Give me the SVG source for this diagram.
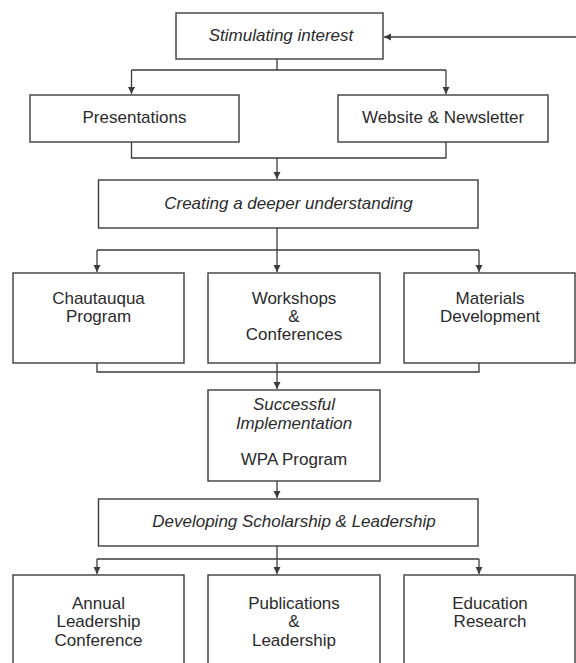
<svg xmlns="http://www.w3.org/2000/svg" width="576" height="663" viewBox="0 0 576 663">
<style>
.box{fill:#fff;stroke:#3c3c3c;stroke-width:1.4}
.t{font-family:"Liberation Sans",Arial,sans-serif;font-size:17px;fill:#2b2b2b;text-anchor:middle}
.i{font-style:italic}
.c{fill:none;stroke:#3c3c3c;stroke-width:1.3}
</style>
<defs>
<marker id="ah" markerWidth="8" markerHeight="8" refX="7" refY="3.5" orient="auto" markerUnits="userSpaceOnUse"><path d="M0,0 L7,3.5 L0,7 z" fill="#3c3c3c"/></marker>
</defs>
<rect width="576" height="663" fill="#fff"/>

<g id="connectors">
<path class="c" d="M576,37 H384" marker-end="url(#ah)"/>
<path class="c" d="M277,59 V70 M131.5,70 H446"/>
<path class="c" d="M131.5,70 V94" marker-end="url(#ah)"/>
<path class="c" d="M446,70 V94" marker-end="url(#ah)"/>
<path class="c" d="M131.5,142 V158 H446 V142"/>
<path class="c" d="M277,158 V179" marker-end="url(#ah)"/>
<path class="c" d="M277,228 V250 M97,250 H479"/>
<path class="c" d="M97,250 V272" marker-end="url(#ah)"/>
<path class="c" d="M277,250 V272" marker-end="url(#ah)"/>
<path class="c" d="M479,250 V272" marker-end="url(#ah)"/>
<path class="c" d="M97,363 V372 H479 V363"/>
<path class="c" d="M277,363 V389" marker-end="url(#ah)"/>
<path class="c" d="M277,481 V498" marker-end="url(#ah)"/>
<path class="c" d="M277,546 V559 M97,559 H479"/>
<path class="c" d="M97,559 V574" marker-end="url(#ah)"/>
<path class="c" d="M277,559 V574" marker-end="url(#ah)"/>
<path class="c" d="M479,559 V574" marker-end="url(#ah)"/>
</g>

<g id="stimulating">
<rect class="box" x="176" y="13" width="207" height="46"/>
<text class="t i" x="281" y="41">Stimulating interest</text>
</g>
<g id="presentations">
<rect class="box" x="30" y="95" width="209" height="47"/>
<text class="t" x="134.5" y="123">Presentations</text>
</g>
<g id="website">
<rect class="box" x="338" y="95" width="210" height="47"/>
<text class="t" x="443" y="123">Website &amp; Newsletter</text>
</g>
<g id="creating">
<rect class="box" x="98.5" y="180" width="379.5" height="48"/>
<text class="t i" x="288.5" y="209">Creating a deeper understanding</text>
</g>
<g id="chautauqua">
<rect class="box" x="13" y="273" width="171" height="90"/>
<text class="t" x="98.5" y="304">Chautauqua</text>
<text class="t" x="98.5" y="322">Program</text>
</g>
<g id="workshops">
<rect class="box" x="208" y="273" width="172" height="90"/>
<text class="t" x="294" y="304">Workshops</text>
<text class="t" x="294" y="322">&amp;</text>
<text class="t" x="294" y="340">Conferences</text>
</g>
<g id="materials">
<rect class="box" x="404" y="273" width="171" height="90"/>
<text class="t" x="490" y="304">Materials</text>
<text class="t" x="490" y="322">Development</text>
</g>
<g id="successful">
<rect class="box" x="208" y="390" width="172" height="91"/>
<text class="t i" x="294" y="410">Successful</text>
<text class="t i" x="294" y="429">Implementation</text>
<text class="t" x="294" y="465">WPA Program</text>
</g>
<g id="developing">
<rect class="box" x="98.5" y="499" width="379.5" height="47"/>
<text class="t i" x="294" y="527">Developing Scholarship &amp; Leadership</text>
</g>
<g id="annual">
<rect class="box" x="13" y="575" width="171" height="100"/>
<text class="t" x="98.5" y="609">Annual</text>
<text class="t" x="98.5" y="627">Leadership</text>
<text class="t" x="98.5" y="646">Conference</text>
</g>
<g id="publications">
<rect class="box" x="208" y="575" width="172" height="100"/>
<text class="t" x="294" y="609">Publications</text>
<text class="t" x="294" y="627">&amp;</text>
<text class="t" x="294" y="646">Leadership</text>
</g>
<g id="education">
<rect class="box" x="404" y="575" width="171" height="100"/>
<text class="t" x="490" y="609">Education</text>
<text class="t" x="490" y="627">Research</text>
</g>
</svg>
